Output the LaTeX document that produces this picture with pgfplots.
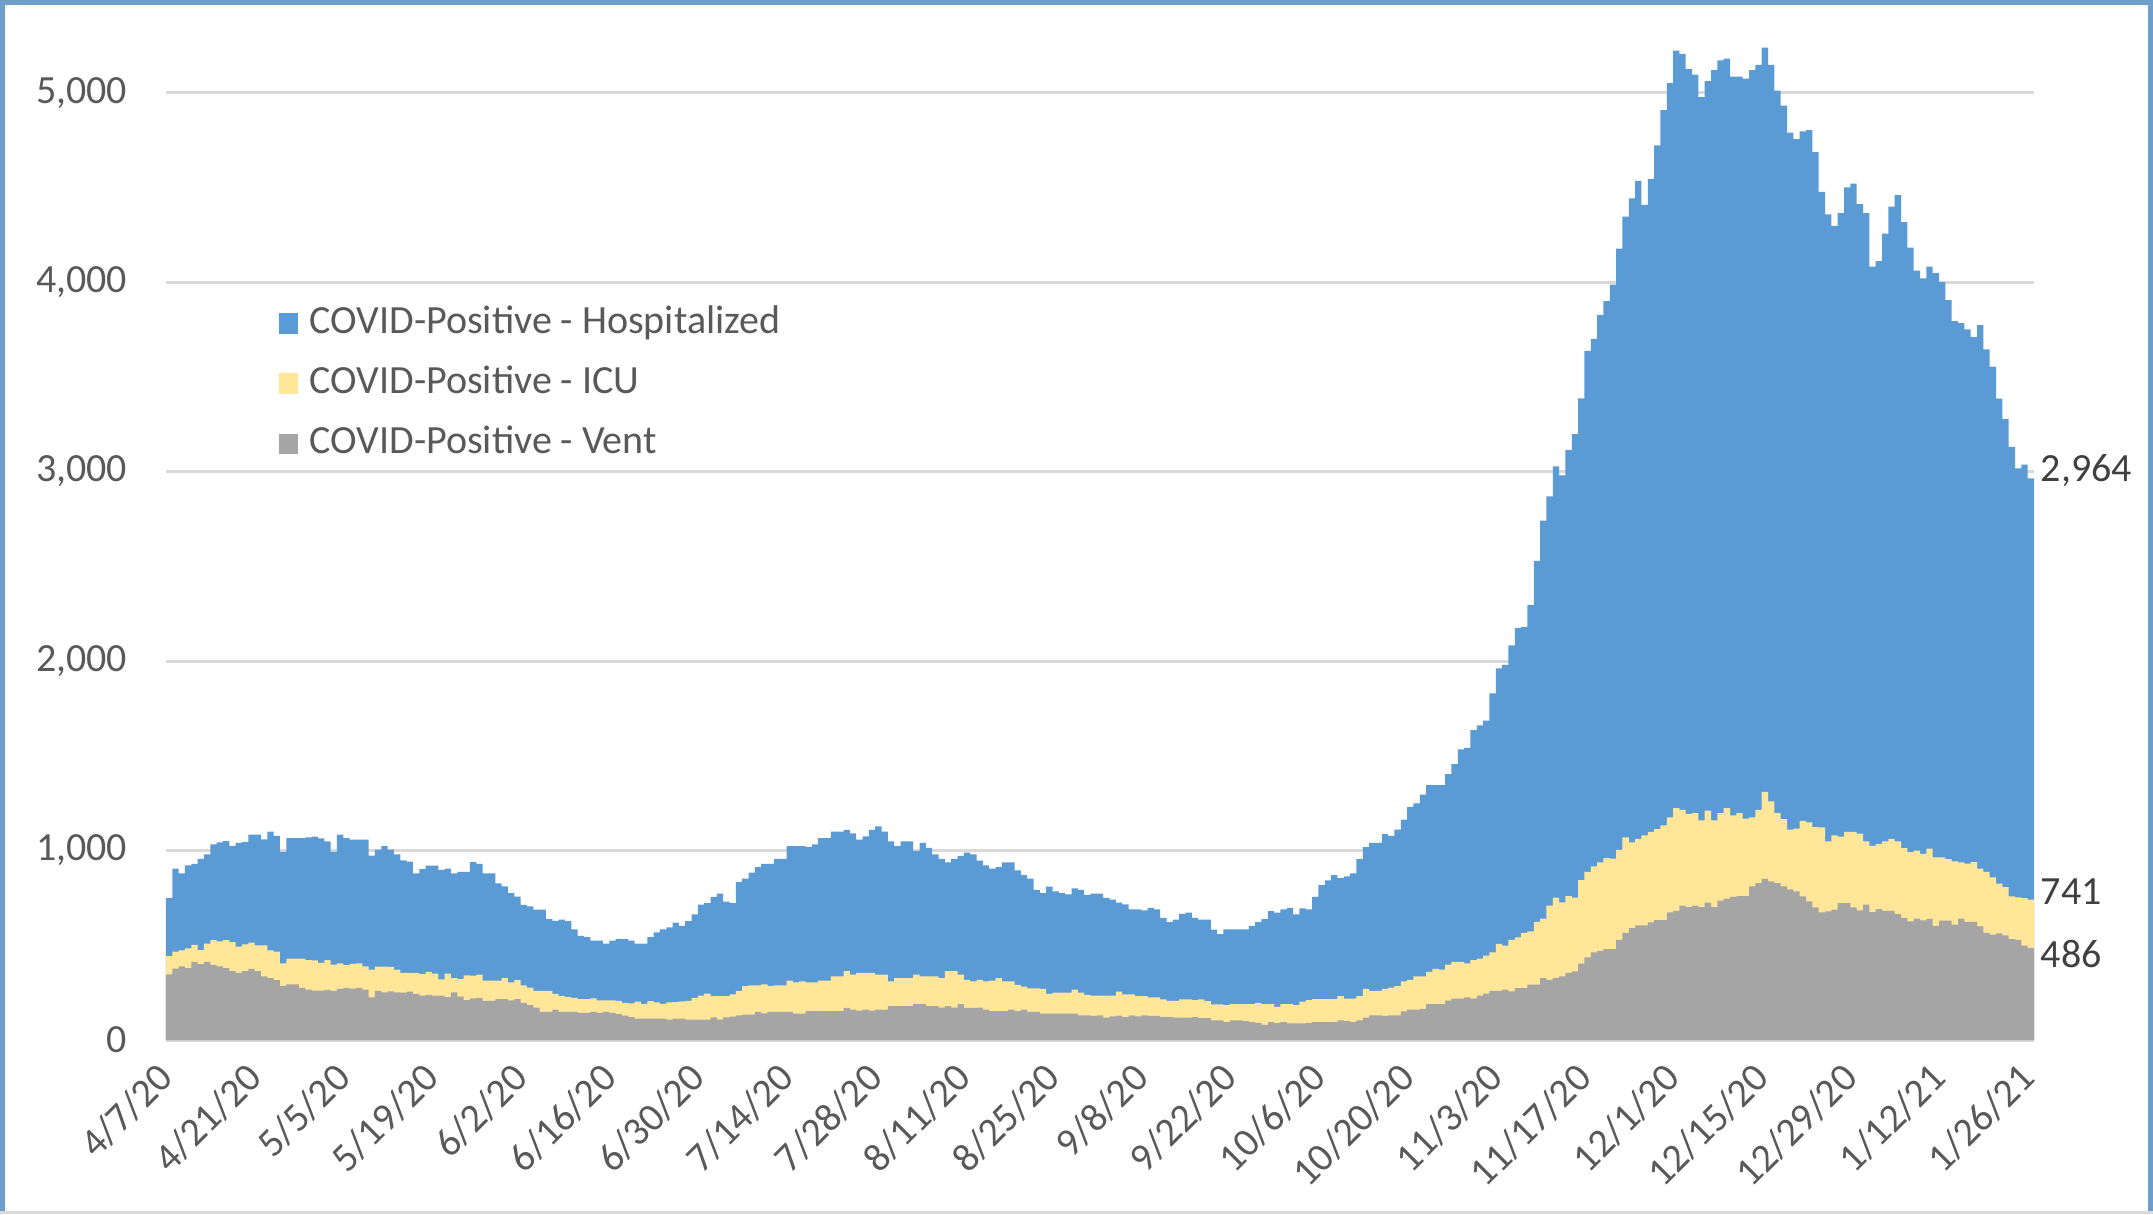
\documentclass[border=0pt]{standalone}
\usepackage{pgfplots}
\usepackage{pgfplotstable}
\pgfplotsset{compat=1.18}
\usepackage{fontspec}
\setmainfont{Carlito}
\definecolor{hosp}{HTML}{5B9BD5}
\definecolor{icu}{HTML}{FFE699}
\definecolor{vent}{HTML}{A5A5A5}
\definecolor{gridc}{HTML}{D9D9D9}
\definecolor{txt}{HTML}{595959}
\definecolor{lab}{HTML}{404040}
\definecolor{frameblue}{HTML}{6E9FCB}

\pgfplotstableread{
x h i v
0 750 443 346
1 904 466 377
2 879 473 388
3 922 484 380
4 929 502 413
5 956 475 400
6 980 509 413
7 1032 527 397
8 1043 520 388
9 1050 527 379
10 1025 516 363
11 1041 493 355
12 1045 505 363
13 1084 514 375
14 1084 500 363
15 1059 500 336
16 1100 473 327
17 1077 466 316
18 993 405 286
19 1066 430 293
20 1066 430 293
21 1066 429 275
22 1070 421 266
23 1073 420 261
24 1064 407 261
25 1048 421 264
26 993 398 259
27 1084 405 270
28 1066 395 275
29 1057 402 271
30 1057 404 275
31 1057 389 266
32 973 371 225
33 1005 387 259
34 1023 387 252
35 1005 386 257
36 980 371 252
37 948 354 250
38 941 354 255
39 879 354 243
40 902 348 234
41 920 359 238
42 920 350 234
43 898 320 234
44 905 350 227
45 879 327 252
46 888 321 229
47 888 341 211
48 939 340 220
49 930 345 223
50 879 313 207
51 879 313 207
52 827 313 216
53 811 327 216
54 775 304 209
55 757 316 216
56 713 288 196
57 705 277 184
58 688 259 171
59 688 259 148
60 638 259 148
61 629 243 161
62 636 232 148
63 627 227 148
64 584 223 148
65 550 216 143
66 543 216 143
67 525 220 148
68 525 209 143
69 509 209 148
70 525 209 143
71 534 207 136
72 532 196 129
73 525 193 121
74 509 202 113
75 509 191 113
76 543 205 113
77 568 198 113
78 584 191 113
79 595 198 107
80 620 200 113
81 602 204 113
82 627 207 107
83 663 223 107
84 714 234 107
85 723 245 107
86 755 232 120
87 773 232 107
88 730 232 120
89 723 241 123
90 834 259 130
91 852 284 134
92 884 288 134
93 913 288 148
94 929 293 141
95 929 284 148
96 956 288 148
97 956 288 148
98 1023 313 148
99 1023 304 139
100 1023 309 139
101 1018 304 152
102 1032 304 152
103 1066 313 152
104 1066 313 152
105 1100 336 152
106 1100 336 152
107 1109 363 170
108 1091 345 161
109 1057 354 155
110 1075 354 161
111 1109 354 155
112 1127 345 161
113 1100 345 161
114 1048 309 179
115 1023 327 179
116 1048 327 179
117 1048 327 179
118 998 345 189
119 1041 336 189
120 1014 336 179
121 980 336 179
122 956 327 171
123 938 363 179
124 956 363 171
125 972 345 189
126 989 318 170
127 980 309 170
128 947 318 171
129 922 309 161
130 904 313 152
131 913 327 152
132 938 309 152
133 938 309 161
134 895 291 152
135 870 282 161
136 852 273 148
137 793 273 148
138 775 270 139
139 809 243 139
140 784 250 139
141 775 250 139
142 768 250 139
143 800 266 139
144 793 250 130
145 766 238 130
146 773 234 128
147 773 234 130
148 750 234 118
149 741 234 125
150 725 255 129
151 716 241 121
152 689 241 130
153 689 232 125
154 684 232 130
155 698 225 127
156 689 225 127
157 645 214 121
158 622 207 121
159 636 207 118
160 666 214 118
161 672 214 118
162 645 211 121
163 636 214 116
164 636 205 116
165 582 188 104
166 559 188 104
167 584 184 95
168 584 189 104
169 584 189 104
170 584 189 100
171 602 189 95
172 622 196 91
173 638 189 80
174 680 189 95
175 672 175 89
176 689 189 95
177 698 189 88
178 663 184 88
179 695 202 88
180 689 211 91
181 755 216 95
182 818 216 95
183 843 216 95
184 870 216 95
185 854 232 104
186 863 218 100
187 880 218 95
188 955 232 104
189 1018 270 118
190 1041 259 130
191 1041 259 130
192 1086 270 127
193 1077 277 130
194 1111 284 130
195 1163 310 151
196 1230 318 160
197 1249 336 160
198 1295 336 165
199 1345 359 190
200 1345 376 190
201 1345 371 190
202 1403 398 208
203 1456 412 218
204 1534 412 218
205 1542 405 225
206 1635 422 218
207 1660 429 234
208 1685 445 245
209 1829 463 260
210 1962 507 260
211 1980 498 266
212 2083 529 257
213 2174 542 274
214 2181 565 274
215 2295 573 292
216 2529 623 292
217 2741 640 327
218 2869 709 318
219 3028 751 327
220 2980 726 336
221 3113 760 354
222 3197 751 362
223 3386 844 403
224 3637 887 436
225 3700 916 463
226 3826 938 471
227 3900 960 480
228 3986 957 480
229 4176 1004 529
230 4346 1069 565
231 4442 1043 591
232 4534 1062 605
233 4408 1080 605
234 4544 1098 621
235 4721 1113 633
236 4908 1133 633
237 5050 1175 674
238 5221 1224 682
239 5204 1215 709
240 5125 1194 702
241 5095 1198 709
242 4976 1159 702
243 5061 1210 725
244 5119 1159 702
245 5170 1198 735
246 5180 1224 746
247 5085 1186 755
248 5085 1198 760
249 5074 1168 760
250 5119 1175 811
251 5146 1215 828
252 5238 1309 851
253 5146 1259 837
254 5010 1198 828
255 4931 1166 811
256 4789 1110 795
257 4755 1115 785
258 4795 1157 758
259 4802 1149 732
260 4686 1124 700
261 4476 1122 674
262 4358 1048 679
263 4297 1080 688
264 4364 1073 723
265 4500 1098 723
266 4520 1098 700
267 4412 1089 684
268 4364 1048 714
269 4081 1025 675
270 4111 1034 691
271 4256 1048 682
272 4398 1062 682
273 4459 1048 665
274 4317 1013 644
275 4182 992 626
276 4060 999 640
277 4020 982 631
278 4081 1010 639
279 4047 964 603
280 4000 964 630
281 3905 955 630
282 3794 943 609
283 3783 938 640
284 3750 931 623
285 3709 939 623
286 3773 904 600
287 3645 887 565
288 3554 858 556
289 3385 825 563
290 3277 807 552
291 3131 758 533
292 3017 753 529
293 3037 749 498
294 2964 741 486
295 2964 741 486
}\covid

\begin{document}
\begin{tikzpicture}
\useasboundingbox (0,0) rectangle (538.25pt,303.5pt);
\fill[white] (0,0) rectangle (538.25pt,303.5pt);
\begin{axis}[
  at={(41.5pt,43.5pt)}, anchor=south west,
  scale only axis, width=467pt, height=255.8pt,
  xmin=0, xmax=295, ymin=0, ymax=5400,
  axis x line*=bottom, axis y line*=left,
  x axis line style={gridc, line width=0.75pt},
  y axis line style={draw=none},
  major tick length=0pt,
  tick style={draw=none},
  ytick={0,1000,2000,3000,4000,5000},
  yticklabels={0,{1,000},{2,000},{3,000},{4,000},{5,000}},
  ymajorgrids, grid style={gridc, line width=0.75pt},
  yticklabel style={font=\fontsize{10}{12}\selectfont, text=txt, anchor=east, inner sep=0pt, xshift=-9.5pt},
  xtick={0.5,14.5,...,294.5},
  xticklabels={4/7/20,4/21/20,5/5/20,5/19/20,6/2/20,6/16/20,6/30/20,7/14/20,7/28/20,8/11/20,8/25/20,9/8/20,9/22/20,10/6/20,10/20/20,11/3/20,11/17/20,12/1/20,12/15/20,12/29/20,1/12/21,1/26/21},
  xticklabel style={font=\fontsize{10}{12}\selectfont, text=txt, rotate=45, anchor=north east, inner sep=0pt, yshift=-1.1pt, xshift=-5.9pt},
  legend cell align=left,
  legend image code/.code={\fill[#1] (0pt,-2.6pt) rectangle (4.75pt,2.6pt);},
  legend style={at={(0.0535,0.7268)}, anchor=north west, draw=none, fill=none,
    font=\fontsize{10}{12}\selectfont, text=txt, row sep=6.1pt,
    nodes={inner sep=0pt, text height=7pt, text depth=2pt},
    /tikz/every odd column/.append style={column sep=3pt}},
  clip=false,
]
\addplot[fill=hosp, draw=none, const plot mark left] table[x=x, y=h] {\covid} \closedcycle;
\addlegendentry{COVID-Positive - Hospitalized}
\addplot[fill=icu, draw=none, const plot mark left] table[x=x, y=i] {\covid} \closedcycle;
\addlegendentry{COVID-Positive - ICU}
\addplot[fill=vent, draw=none, const plot mark left] table[x=x, y=v] {\covid} \closedcycle;
\addlegendentry{COVID-Positive - Vent}
\node[anchor=base west, inner sep=0pt, xshift=1.5pt, yshift=-0.8pt, text=lab, font=\fontsize{10}{12}\selectfont] at (axis cs:295,2964) {2,964};
\node[anchor=base west, inner sep=0pt, xshift=1.5pt, yshift=-1.2pt, text=lab, font=\fontsize{10}{12}\selectfont] at (axis cs:295,741) {741};
\node[anchor=base west, inner sep=0pt, xshift=1.5pt, yshift=-4.9pt, text=lab, font=\fontsize{10}{12}\selectfont] at (axis cs:295,486) {486};
\end{axis}
\draw[frameblue, line width=1.25pt] (0.625pt,0.625pt) -- (0.625pt,302.875pt) -- (537.625pt,302.875pt) -- (537.625pt,0.625pt);
\draw[gridc, line width=0.75pt] (0,0.375pt) -- (538.25pt,0.375pt);
\end{tikzpicture}
\end{document}
